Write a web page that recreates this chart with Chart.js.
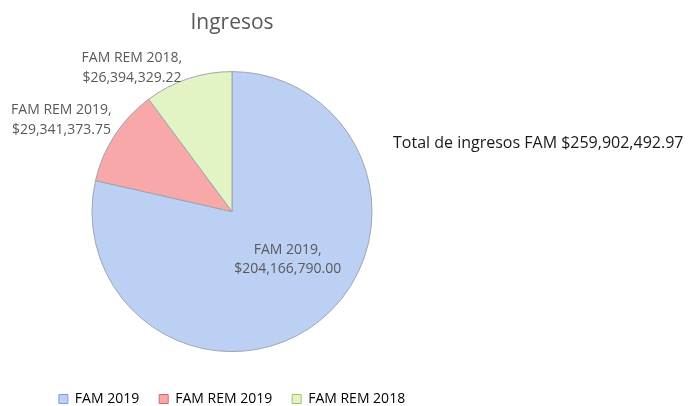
<!DOCTYPE html>
<html>
<head>
<meta charset="utf-8">
<script src="https://cdn.jsdelivr.net/npm/chart.js@4"></script>
<style>
  html, body { margin: 0; padding: 0; background: #fff; }
  #wrap { width: 693px; height: 406px; }
</style>
</head>
<body>
<div id="wrap"><canvas id="ingresos"></canvas></div>
<script>
var labels = ['FAM 2019', 'FAM REM 2019', 'FAM REM 2018'];
var montos = [204166790.00, 29341373.75, 26394329.22];
var totalTexto = 'Total de ingresos FAM $259,902,492.97';

var relleno = ['#bcd0f4', '#f8a8a8', '#e2f3c4'];
var cuadro = ['#7f9fd8', '#d86868', '#9cc860'];

function moneda(v) {
  return '$' + v.toLocaleString('en-US', { minimumFractionDigits: 2, maximumFractionDigits: 2 });
}

// etiquetas de cada rebanada + el texto del total
var etiquetas = {
  id: 'etiquetas',
  afterDatasetsDraw: function(chart, args, opts) {
    var ctx = chart.ctx;
    var meta = chart.getDatasetMeta(0);
    var suma = montos.reduce(function(a, b) { return a + b; }, 0);
    ctx.save();
    ctx.font = '14px "Open Sans"';
    ctx.fillStyle = '#595959';
    ctx.textBaseline = 'middle';
    ctx.textAlign = 'center';
    meta.data.forEach(function(arc, i) {
      var p = arc.getProps(['x', 'y', 'startAngle', 'endAngle', 'outerRadius'], true);
      var a = (p.startAngle + p.endAngle) / 2;
      var lineas = [labels[i] + ',', moneda(montos[i])];
      var n = opts.nudge[i];
      var x, y;
      if (montos[i] / suma > 0.5) {
        x = p.x + Math.cos(a) * p.outerRadius * 0.5 + n[0];
        y = p.y + Math.sin(a) * p.outerRadius * 0.5 + n[1];
        ctx.fillText(lineas[0], x, y - 9.5);
        ctx.fillText(lineas[1], x, y + 9.5);
      } else {
        x = p.x + Math.cos(a) * (p.outerRadius + 6) + n[0];
        y = p.y + Math.sin(a) * (p.outerRadius + 6) + n[1];
        var w = Math.max(ctx.measureText(lineas[0]).width, ctx.measureText(lineas[1]).width);
        ctx.fillText(lineas[0], x - w / 2, y - 19.5);
        ctx.fillText(lineas[1], x - w / 2, y);
      }
    });
    ctx.font = '16px "Open Sans"';
    ctx.fillStyle = '#1a1a1a';
    ctx.textAlign = 'left';
    ctx.fillText(totalTexto, 393, 143);
    ctx.restore();
  }
};

new Chart(document.getElementById('ingresos'), {
  type: 'pie',
  data: {
    labels: labels,
    datasets: [{
      data: montos,
      backgroundColor: relleno,
      borderColor: '#a0a4b2',
      borderWidth: 1,
      hoverOffset: 0,
      radius: 140
    }]
  },
  options: {
    responsive: true,
    maintainAspectRatio: false,
    animation: false,
    events: [],
    layout: { padding: { top: 0, left: 0, right: 229, bottom: -10 } },
    plugins: {
      title: {
        display: true,
        text: 'Ingresos',
        color: '#595959',
        font: { family: 'Open Sans', size: 21, weight: 'normal' },
        padding: { top: 10, bottom: 16 }
      },
      legend: {
        position: 'bottom',
        labels: {
          boxWidth: 9,
          boxHeight: 9,
          padding: 20,
          color: '#595959',
          font: { family: 'Open Sans', size: 14 },
          generateLabels: function(chart) {
            return labels.map(function(t, i) {
              return { text: t, fillStyle: relleno[i], strokeStyle: cuadro[i], lineWidth: 1, index: i };
            });
          }
        }
      },
      tooltip: { enabled: false },
      etiquetas: { nudge: [[12, -7], [2, -2], [-4, 5]] }
    }
  },
  plugins: [etiquetas]
});
</script>
</body>
</html>
